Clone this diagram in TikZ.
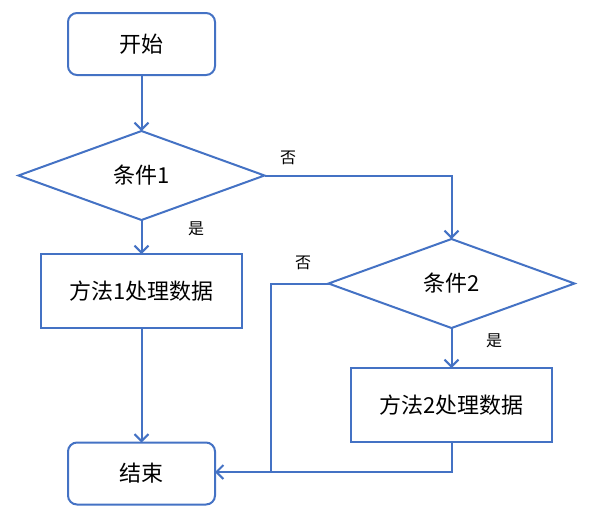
\documentclass[tikz,border=0pt]{standalone}
\usepackage{fontspec}
\setmainfont{Noto Sans CJK SC}
\usetikzlibrary{shapes.geometric,arrows.meta}
\definecolor{ln}{HTML}{4472C4}
\begin{document}
\begin{tikzpicture}[x=1pt,y=-1pt,
  every node/.style={inner sep=0pt,outer sep=0pt},
  term/.style={draw=ln,line width=2pt,rounded corners=9pt,minimum width=147pt,minimum height=62pt,font=\fontsize{22}{24}\selectfont},
  proc/.style={draw=ln,line width=2pt,minimum width=201pt,minimum height=74pt,font=\fontsize{22}{24}\selectfont},
  cond/.style={draw=ln,line width=2pt,diamond,aspect=2.76,minimum width=246pt,minimum height=89pt,font=\fontsize{22}{24}\selectfont},
  conn/.style={draw=ln,line width=2pt},
  arr/.style={conn,-{Straight Barb[length=7pt,width=14pt,line width=2pt]}},
  lab/.style={font=\fontsize{16}{18}\selectfont}]
\useasboundingbox (0,0) rectangle (612,531);
\node[term] (start) at (141.5,44) {开始};
\node[cond] (c1) at (141.5,175.5) {条件1};
\node[proc] (p1) at (141.5,291) {方法1处理数据};
\node[term] (end) at (141.5,473.5) {结束};
\node[cond] (c2) at (451.5,283.5) {条件2};
\node[proc] (p2) at (451.5,405) {方法2处理数据};
\coordinate (j) at (271,472);
\draw[arr] (start) -- (c1);
\draw[arr] (c1) -- (p1);
\draw[arr] (p1) -- (end);
\draw[arr] (c1.east) -| (c2.north);
\draw[arr] (c2) -- (p2);
\draw[conn] (c2.west) -| (j);
\draw[conn] (p2.south) |- (j);
\draw[arr] (j) -- (end.east |- j);
\node[lab] (n1) at (288,158) {否};
\node[lab] (y1) at (196,229) {是};
\node[lab] (n2) at (303,263) {否};
\node[lab] (y2) at (494,341) {是};
\end{tikzpicture}
\end{document}
